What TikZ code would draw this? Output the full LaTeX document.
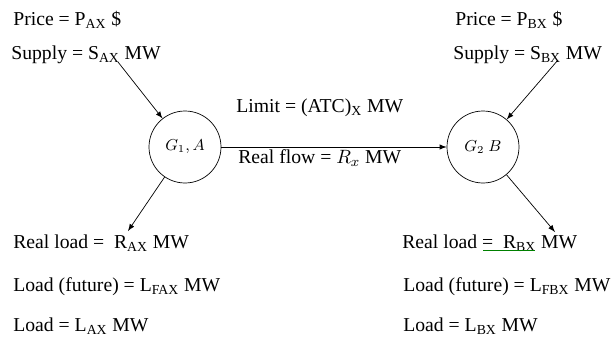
\documentclass[tikz,border=0pt]{standalone}
\usepackage{fontspec}
\setmainfont{Liberation Serif}
\usepackage{tikz}
\usetikzlibrary{arrows}

\begin{document}
\begin{tikzpicture}[scale=1,
  lbl/.style={anchor=west, inner sep=0pt, font=\fontsize{11.2}{13}\selectfont},
  bus/.style={draw, circle, minimum size=1.44cm, inner sep=0pt, font=\small},
  flow/.style={-latex, thin}]
\useasboundingbox (0,0) rectangle (12.26,6.86);
% area A
\node[lbl] (priceA) at (0.26,6.46) {Price = P\textsubscript{AX} \$};
\node[lbl] (supplyA) at (0.22,5.76) {Supply = S\textsubscript{AX} MW};
\node[bus] (g1) at (3.70,3.92) {$G_1, A$};
\node[lbl] (realA) at (0.26,2.00) {Real load = \ R\textsubscript{AX} MW};
\node[lbl] (futA) at (0.26,1.12) {Load (future) = L\textsubscript{FAX} MW};
\node[lbl] (loadA) at (0.26,0.34) {Load = L\textsubscript{AX} MW};
% area B
\node[lbl] (priceB) at (9.10,6.46) {Price = P\textsubscript{BX} \$};
\node[lbl] (supplyB) at (9.06,5.76) {Supply = S\textsubscript{BX} MW};
\node[bus] (g2) at (9.66,3.92) {$G_2\ B$};
\node[lbl] (realB) at (8.04,2.00) {Real load = \ R\textsubscript{BX} MW};
\node[lbl] (futB) at (8.06,1.12) {Load (future) = L\textsubscript{FBX} MW};
\node[lbl] (loadB) at (8.06,0.34) {Load = L\textsubscript{BX} MW};
% tie line
\node[lbl] (limit) at (4.72,4.70) {Limit = (ATC)\textsubscript{X} MW};
\node[lbl] (real) at (4.76,3.70) {Real flow = $R_x$ MW};
\draw[flow] (g1) -- (g2);
% injections and loads
\coordinate (sA) at (2.36,5.62);
\coordinate (sB) at (11.16,5.66);
\coordinate (rA) at (2.56,2.24);
\coordinate (rB) at (11.10,2.22);
\draw[flow] (sA) -- (g1);
\draw[flow] (sB) -- (g2);
\draw[flow] (g1) -- (rA);
\draw[flow] (g2) -- (rB);
\draw[green!50!black, very thin] (9.66,1.86) -- (10.70,1.86);
\end{tikzpicture}
\end{document}
